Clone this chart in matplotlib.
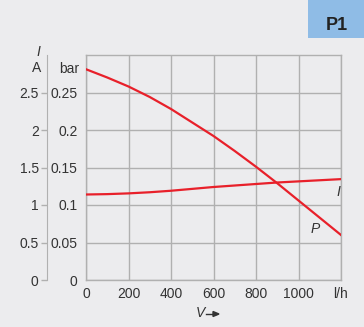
import matplotlib.pyplot as plt
from matplotlib.patches import Rectangle

plt.rcParams['font.family'] = ['Liberation Sans', 'DejaVu Sans']

# flow rate V in l/h
flow = [0, 100, 200, 300, 400, 500, 600, 700, 800, 900, 1000, 1100, 1200]
# pressure P in bar
pressure = [0.281, 0.270, 0.258, 0.244, 0.228, 0.210, 0.192, 0.172, 0.151, 0.129, 0.106, 0.083, 0.060]
# current I in A
current = [1.14, 1.145, 1.155, 1.17, 1.19, 1.215, 1.24, 1.26, 1.28, 1.30, 1.315, 1.33, 1.345]

x_ticks = [0, 200, 400, 600, 800, 1000, 1200]
x_labels = ['0', '200', '400', '600', '800', '1000', 'l/h']
p_ticks = [0, 0.05, 0.1, 0.15, 0.2, 0.25]
p_labels = ['0', '0.05', '0.1', '0.15', '0.2', '0.25']
i_ticks = [0, 0.5, 1, 1.5, 2, 2.5]
i_labels = ['0', '0.5', '1', '1.5', '2', '2.5']

bg = '#ececee'
red = '#e8202a'
gray = '#b0b0b0'
txt = '#333333'
fs = 10

fig = plt.figure(figsize=(3.64, 3.27), dpi=100, facecolor=bg)
W, H = 364, 327

ax = fig.add_axes([86 / W, 1 - 280 / H, 255 / W, 225 / H], facecolor=bg)
ax.set_xlim(0, 1200)
ax.set_ylim(0, 0.3)
ax.plot(flow, pressure, color=red, lw=1.6, zorder=3)
ax.plot(flow, [c / 10 for c in current], color=red, lw=1.6, zorder=3)
ax.set_xticks(x_ticks)
ax.set_xticklabels(x_labels)
ax.set_yticks(p_ticks)
ax.set_yticklabels(p_labels)
ax.tick_params(axis='both', length=0, labelsize=fs, colors=txt)
ax.tick_params(axis='y', pad=6)
ax.tick_params(axis='x', pad=5)
ax.grid(True, color=gray, lw=1)
for s in ax.spines.values():
    s.set_color(gray)
    s.set_linewidth(1)

ax.text(1190, 0.117, 'I', style='italic', fontsize=fs, color=txt, ha='center', va='center')
ax.text(1080, 0.068, 'P', style='italic', fontsize=fs, color=txt, ha='center', va='center')

# outer current axis
ax2 = fig.add_axes([47 / W, 1 - 280 / H, 0.001, 225 / H])
ax2.patch.set_visible(False)
ax2.set_ylim(0, 3)
ax2.set_xticks([])
ax2.set_yticks(i_ticks)
ax2.set_yticklabels(i_labels)
ax2.tick_params(axis='y', length=4, width=1, color=gray, labelsize=fs, labelcolor=txt, pad=2)
for k, s in ax2.spines.items():
    s.set_visible(k == 'left')
ax2.spines['left'].set_color(gray)

fig.text(38 / W, 1 - 52 / H, 'I', style='italic', fontsize=fs, color=txt, ha='center', va='center')
fig.text(37 / W, 1 - 68 / H, 'A', fontsize=fs, color=txt, ha='center', va='center')
fig.text(79 / W, 1 - 69 / H, 'bar', fontsize=fs, color=txt, ha='right', va='center')

fig.text(205 / W, 1 - 313 / H, 'V', style='italic', fontsize=fs, color=txt, ha='right', va='center')
fig.add_artist(plt.Line2D([206 / W, 216 / W], [1 - 314 / H, 1 - 314 / H], color=txt, lw=1))
fig.add_artist(plt.Polygon([[213 / W, 1 - 311.5 / H], [219 / W, 1 - 314 / H], [213 / W, 1 - 316.5 / H]],
                           closed=True, color=txt, transform=fig.transFigure))

# P1 badge
fig.add_artist(Rectangle((308 / W, 1 - 38 / H), 56 / W, 38 / H, transform=fig.transFigure,
                         color='#8fbce6', lw=0))
fig.text(337 / W, 1 - 25 / H, 'P1', fontsize=13, fontweight='bold', color='#222222',
         ha='center', va='center')

fig.savefig('out.png', dpi=100, facecolor=bg)
